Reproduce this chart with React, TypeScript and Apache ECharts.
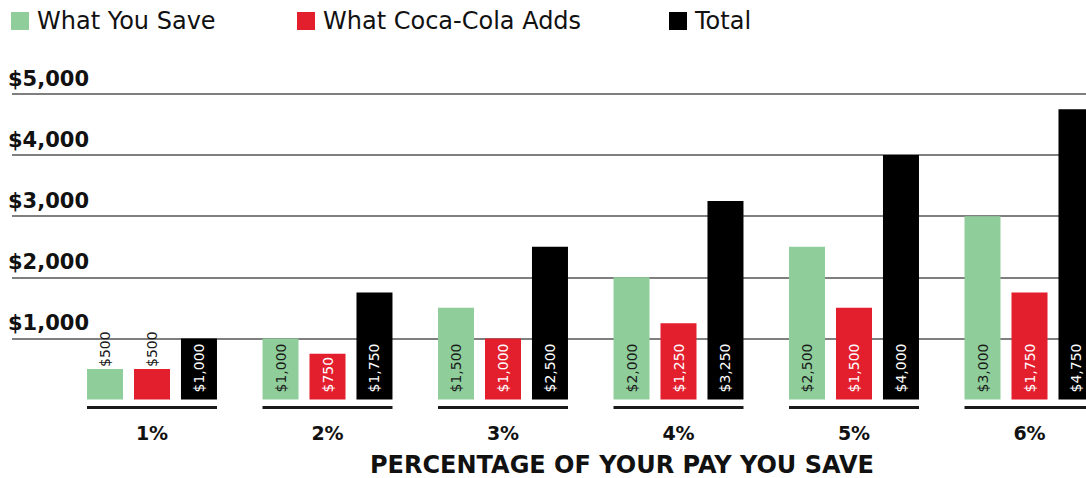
import React, { useEffect, useRef } from "react";
import * as echarts from "echarts";

const categories = ["1%", "2%", "3%", "4%", "5%", "6%"];
const seriesNames = ["What You Save", "What Coca-Cola Adds", "Total"];
const saveValues = [500, 1000, 1500, 2000, 2500, 3000];
const companyValues = [500, 750, 1000, 1250, 1500, 1750];
const totalValues = [1000, 1750, 2500, 3250, 4000, 4750];
const yTicks = [0, 1000, 2000, 3000, 4000, 5000];
const xTitle = "PERCENTAGE OF YOUR PAY YOU SAVE";

const COLORS = ["#8fce9b", "#e31e2d", "#000000"];
const LABEL_COLORS = ["#1a1a1a", "#ffffff", "#ffffff"];
const LEGEND_LEFT = [11, 297, 669];
const FONT = "'DejaVu Sans', sans-serif";
const CANVAS_W = 1120;

const fmt = (v: number) => "$" + v.toLocaleString("en-US");

export default function App() {
  const ref = useRef<HTMLDivElement>(null);
  useEffect(() => {
    if (!ref.current) return;
    const chart = echarts.init(ref.current, undefined, { renderer: "svg" });
    const allSeries = [saveValues, companyValues, totalValues];
    const barSeries = allSeries.map((vals, si) => ({
      type: "bar",
      name: seriesNames[si],
      xAxisIndex: 1,
      yAxisIndex: 1,
      barWidth: 36,
      barGap: "30.5%",
      itemStyle: { color: COLORS[si] },
      label: {
        show: true,
        position: "insideBottom",
        rotate: 90,
        align: "left",
        verticalAlign: "middle",
        distance: 7,
        fontFamily: FONT,
        fontSize: 14,
        color: LABEL_COLORS[si],
        formatter: (p: any) => fmt(p.value),
      },
      data: vals.map((v) =>
        v < 700
          ? { value: v, label: { position: "top", distance: 2, color: "#1a1a1a" } }
          : v
      ),
    }));
    chart.setOption({
      animation: false,
      legend: seriesNames.map((n, i) => ({
        left: LEGEND_LEFT[i],
        top: 9,
        padding: 0,
        itemWidth: 18,
        itemHeight: 18,
        icon: "rect",
        data: [n],
        textStyle: { fontFamily: FONT, fontSize: 24, color: "#111", padding: [0, 0, 0, 3] },
      })),
      title: {
        text: xTitle,
        left: 370,
        top: 453,
        padding: 0,
        textStyle: { fontFamily: FONT, fontSize: 24, lineHeight: 24, fontWeight: "bold", color: "#111" },
      },
      grid: [
        { left: 12, right: CANVAS_W - 1086, top: 94, bottom: 78.5 },
        { left: 64.25, right: CANVAS_W - 1117.25, top: 94, bottom: 78.5 },
      ],
      xAxis: [
        { type: "value", gridIndex: 0, show: false, min: 0, max: 1 },
        {
          type: "category",
          gridIndex: 1,
          data: categories,
          axisLine: { show: false },
          axisTick: { show: false },
          axisLabel: {
            margin: 24,
            fontFamily: FONT,
            fontSize: 19,
            fontWeight: "bold",
            color: "#111",
          },
        },
      ],
      yAxis: [
        {
          type: "value",
          gridIndex: 0,
          min: yTicks[0],
          max: yTicks[yTicks.length - 1],
          interval: 1000,
          axisLine: { show: false },
          axisTick: { show: false },
          splitLine: { show: true, showMinLine: false, lineStyle: { color: "#555", width: 1.5 } },
          axisLabel: {
            inside: true,
            margin: -4,
            verticalAlign: "bottom",
            padding: [0, 0, 5, 0],
            fontFamily: FONT,
            fontSize: 21,
            fontWeight: "bold",
            color: "#111",
            showMinLabel: false,
            formatter: (v: number) => (v === 0 ? "" : fmt(v)),
          },
        },
        {
          type: "value",
          gridIndex: 1,
          min: yTicks[0],
          max: yTicks[yTicks.length - 1],
          interval: 1000,
          show: false,
          splitLine: { show: false },
        },
      ],
      series: [
        ...barSeries,
        {
          type: "custom",
          xAxisIndex: 1,
          yAxisIndex: 1,
          silent: true,
          clip: false,
          data: categories.map((_, i) => [i, 0]),
          renderItem: (params: any, api: any) => {
            const p = api.coord([api.value(0), 0]);
            const half = 65;
            return {
              type: "line",
              shape: { x1: p[0] - half, y1: p[1] + 8, x2: p[0] + half, y2: p[1] + 8 },
              style: { stroke: "#1a1a1a", lineWidth: 3 },
            };
          },
        },
      ],
    });
    return () => chart.dispose();
  }, []);
  return (
    <div style={{ position: "absolute", left: 0, top: 0, width: 1086, height: 478, overflow: "hidden" }}>
      <div ref={ref} style={{ width: CANVAS_W, height: 478 }} />
    </div>
  );
}
